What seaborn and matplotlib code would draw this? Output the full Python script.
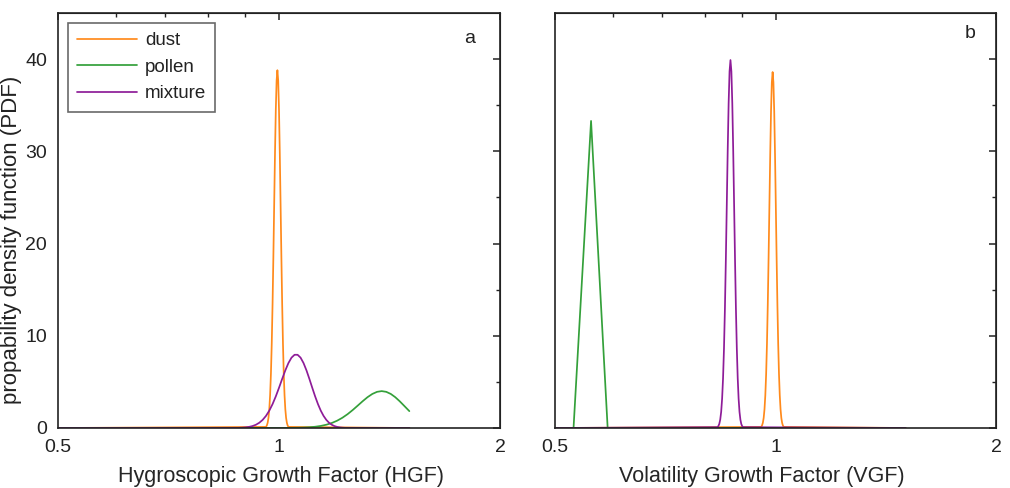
import matplotlib
matplotlib.use("Agg")
import matplotlib.pyplot as plt
from matplotlib.ticker import FixedLocator, NullFormatter, FixedFormatter
import seaborn as sns
import pandas as pd

# ---------------- data ----------------
series_names = ["dust", "pollen", "mixture"]
series_colors = ["#FF8A1C", "#34A03A", "#8E1C98"]

hgf_dust_x = [0.50, 0.9600, 0.9625, 0.9650, 0.9675, 0.9700, 0.9725, 0.9750, 0.9775,
              0.9800, 0.9825, 0.9850, 0.9875, 0.9900, 0.9925, 0.9950, 0.9975,
              1.0000, 1.0025, 1.0050, 1.0075, 1.0100, 1.0125, 1.0150, 1.0175,
              1.0200, 1.0225, 1.0250, 1.0275, 1.0300, 1.505]
hgf_dust_y = [0, 0.12, 0.27, 0.56, 1.10, 2.04, 3.57, 5.89, 9.16,
              13.44, 18.58, 24.22, 29.76, 34.49, 37.67, 38.80, 37.67,
              34.49, 29.76, 24.22, 18.58, 13.44, 9.16, 5.89, 3.57,
              2.04, 1.10, 0.56, 0.27, 0.12, 0]

hgf_pollen_x = [0.50, 1.00, 1.02, 1.04, 1.06, 1.08, 1.10, 1.12, 1.14, 1.16, 1.18,
                1.20, 1.22, 1.24, 1.26, 1.28, 1.30, 1.32, 1.34, 1.36, 1.38,
                1.40, 1.42, 1.44, 1.46, 1.48, 1.505]
hgf_pollen_y = [0, 0.003, 0.006, 0.012, 0.024, 0.044, 0.079, 0.136, 0.224, 0.356, 0.541,
                0.792, 1.112, 1.501, 1.947, 2.426, 2.904, 3.341, 3.692, 3.921, 4.00,
                3.921, 3.692, 3.341, 2.904, 2.426, 1.83]

hgf_mix_x = [0.50, 0.88, 0.89, 0.90, 0.91, 0.92, 0.93, 0.94, 0.95, 0.96, 0.97,
             0.98, 0.99, 1.00, 1.01, 1.02, 1.03, 1.04, 1.05, 1.06, 1.07,
             1.08, 1.09, 1.10, 1.11, 1.12, 1.13, 1.14, 1.15, 1.16, 1.17,
             1.18, 1.19, 1.20, 1.21, 1.22, 1.23, 1.505]
hgf_mix_y = [0, 0.017, 0.034, 0.065, 0.119, 0.208, 0.350, 0.567, 0.880, 1.313, 1.881,
             2.591, 3.428, 4.358, 5.323, 6.246, 7.042, 7.629, 7.940, 7.940, 7.629,
             7.042, 6.246, 5.323, 4.358, 3.428, 2.591, 1.881, 1.313, 0.880, 0.567,
             0.350, 0.208, 0.119, 0.065, 0.034, 0.017, 0]

vgf_dust_x = [0.50, 0.9560, 0.9585, 0.9610, 0.9635, 0.9660, 0.9685, 0.9710, 0.9735,
              0.9760, 0.9785, 0.9810, 0.9835, 0.9860, 0.9885, 0.9910, 0.9935,
              0.9960, 0.9985, 1.0010, 1.0035, 1.0060, 1.0085, 1.0110, 1.0135,
              1.0160, 1.0185, 1.0210, 1.0235, 1.0260, 1.505]
vgf_dust_y = [0, 0.12, 0.27, 0.56, 1.09, 2.03, 3.55, 5.86, 9.11,
              13.37, 18.48, 24.10, 29.61, 34.31, 37.48, 38.60, 37.48,
              34.31, 29.61, 24.10, 18.48, 13.37, 9.11, 5.86, 3.55,
              2.03, 1.09, 0.56, 0.27, 0.12, 0]

vgf_pollen_x = [0.50, 0.53, 0.56, 0.59, 1.505]
vgf_pollen_y = [0, 0, 33.3, 0, 0]

vgf_mix_x = [0.50, 0.8330, 0.8355, 0.8380, 0.8405, 0.8430, 0.8455, 0.8480, 0.8505,
             0.8530, 0.8555, 0.8580, 0.8605, 0.8630, 0.8655, 0.8680, 0.8705,
             0.8730, 0.8755, 0.8780, 0.8805, 0.8830, 0.8855, 0.8880, 0.8905,
             0.8930, 0.8955, 0.8980, 0.9005, 0.9030, 1.505]
vgf_mix_y = [0, 0.09, 0.20, 0.44, 0.91, 1.75, 3.18, 5.40, 8.63,
             12.96, 18.27, 24.20, 30.12, 35.21, 38.67, 39.90, 38.67,
             35.21, 30.12, 24.20, 18.27, 12.96, 8.63, 5.40, 3.18,
             1.75, 0.91, 0.44, 0.20, 0.09, 0]

x_major_ticks = [0.5, 1, 2]
x_major_labels = ["0.5", "1", "2"]
x_minor_ticks = [0.6, 0.7, 0.8, 0.9]
y_major_ticks = [0, 10, 20, 30, 40]
y_minor_ticks = [5, 15, 25, 35]

x_labels = ["Hygroscopic Growth Factor (HGF)", "Volatility Growth Factor (VGF)"]
y_label = "propability density function (PDF)"
panel_letters = ["a", "b"]

# ---------------- styling ----------------
sns.set_style("white")
plt.rcParams["font.family"] = ["Liberation Sans", "DejaVu Sans"]
plt.rcParams["axes.edgecolor"] = "#222222"
plt.rcParams["text.color"] = "#222222"
plt.rcParams["xtick.color"] = "#222222"
plt.rcParams["ytick.color"] = "#222222"

fig = plt.figure(figsize=(10.10, 4.88), dpi=100)
axL = fig.add_axes([58 / 1010, 60 / 488, 442 / 1010, 415 / 488])
axR = fig.add_axes([555 / 1010, 60 / 488, 441 / 1010, 415 / 488])

panels = [
    (axL, [(hgf_dust_x, hgf_dust_y), (hgf_pollen_x, hgf_pollen_y), (hgf_mix_x, hgf_mix_y)]),
    (axR, [(vgf_dust_x, vgf_dust_y), (vgf_pollen_x, vgf_pollen_y), (vgf_mix_x, vgf_mix_y)]),
]
label_x = [0.505, 0.469]
letter_pos = [(0.932, 0.928), (0.941, 0.940)]

for i, (ax, curves) in enumerate(panels):
    for (xs, ys), name, col in zip(curves, series_names, series_colors):
        df = pd.DataFrame({"x": xs, "y": ys})
        sns.lineplot(data=df, x="x", y="y", ax=ax, color=col, lw=1.25,
                     sort=False, estimator=None, label=name if i == 0 else None)
    ax.set_xscale("log")
    ax.set_xlim(0.5, 2)
    ax.set_ylim(0, 45)
    ax.xaxis.set_major_locator(FixedLocator(x_major_ticks))
    ax.xaxis.set_major_formatter(FixedFormatter(x_major_labels))
    ax.xaxis.set_minor_locator(FixedLocator(x_minor_ticks))
    ax.xaxis.set_minor_formatter(NullFormatter())
    ax.yaxis.set_major_locator(FixedLocator(y_major_ticks))
    ax.yaxis.set_minor_locator(FixedLocator(y_minor_ticks))
    ax.tick_params(which="major", direction="out", length=5, width=1.1, labelsize=14, pad=3)
    ax.tick_params(which="minor", direction="out", length=3, width=1.0)
    for sp in ax.spines.values():
        sp.set_linewidth(1.2)
    ax.set_xlabel(x_labels[i], fontsize=15.5, va="top")
    ax.xaxis.set_label_coords(label_x[i], -0.092)
    ax.set_ylabel("")
    if i == 1:
        ax.tick_params(axis="y", which="both", labelleft=False)
    # mirrored ticks on top / right pointing inward
    secx = ax.secondary_xaxis("top")
    secx.xaxis.set_major_locator(FixedLocator(x_major_ticks))
    secx.xaxis.set_minor_locator(FixedLocator(x_minor_ticks))
    secx.xaxis.set_major_formatter(NullFormatter())
    secx.xaxis.set_minor_formatter(NullFormatter())
    secx.tick_params(which="major", direction="in", length=5, width=1.1)
    secx.tick_params(which="minor", direction="in", length=3, width=1.0)
    secy = ax.secondary_yaxis("right")
    secy.yaxis.set_major_locator(FixedLocator(y_major_ticks))
    secy.yaxis.set_minor_locator(FixedLocator(y_minor_ticks))
    secy.yaxis.set_major_formatter(NullFormatter())
    secy.tick_params(which="major", direction="in", length=5, width=1.1)
    secy.tick_params(which="minor", direction="in", length=3, width=1.0)
    lx, ly = letter_pos[i]
    ax.text(lx, ly, panel_letters[i], transform=ax.transAxes,
            ha="center", va="baseline", fontsize=14)

leg = axL.legend(loc="upper left", bbox_to_anchor=(0.0226, 0.976), fontsize=13.5,
                 frameon=True, fancybox=False, edgecolor="#444444", borderaxespad=0,
                 handlelength=3.2, borderpad=0.5, labelspacing=0.5, handletextpad=0.4)
leg.get_frame().set_linewidth(1.2)

fig.text(1 / 1010, 0.508, y_label, rotation=90, ha="left", va="center", fontsize=16)

fig.savefig("out.png", dpi=100)
